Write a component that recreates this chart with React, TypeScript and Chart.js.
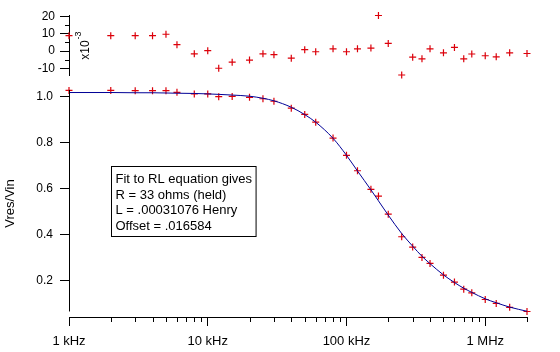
import React, { useEffect, useRef } from 'react';
import { Chart, registerables } from 'chart.js';

Chart.register(...registerables);

// ---- data ----
const FREQ_HZ = [1e3, 2e3, 3e3, 4e3, 5e3, 6e3, 8e3, 1e4, 1.2e4, 1.5e4, 2e4, 2.5e4, 3e4, 4e4, 5e4, 6e4, 8e4, 1e5, 1.2e5, 1.5e5, 1.7e5, 2e5, 2.5e5, 3e5, 3.5e5, 4e5, 5e5, 6e5, 7e5, 8e5, 1e6, 1.2e6, 1.5e6, 2e6];
const VRES_VIN = [1.026, 1.026, 1.025, 1.025, 1.025, 1.018, 1.011, 1.011, 0.999, 1.0, 0.996, 0.99, 0.979, 0.949, 0.922, 0.888, 0.819, 0.744, 0.677, 0.596, 0.567, 0.488, 0.39, 0.345, 0.3, 0.274, 0.223, 0.193, 0.162, 0.146, 0.117, 0.1, 0.083, 0.065];
const FIT_CURVE = [1.017, 1.017, 1.016, 1.016, 1.015, 1.014, 1.013, 1.011, 1.009, 1.006, 1.001, 0.992, 0.981, 0.953, 0.921, 0.888, 0.818, 0.744, 0.676, 0.594, 0.546, 0.484, 0.404, 0.349, 0.305, 0.273, 0.224, 0.191, 0.166, 0.148, 0.12, 0.103, 0.084, 0.066];
const RESIDUAL_E3 = [8.9, 8.9, 8.9, 8.9, 9.7, 3.7, -1.6, 0.2, -9.9, -6.4, -5.2, -1.6, -2.1, -4.1, 0.8, -0.4, 1.3, -0.4, 1.3, 1.7, 20.5, 4.4, -13.8, -3.5, -4.5, 1.3, -1.0, 2.1, -4.5, -1.7, -2.7, -3.3, -1.0, -1.4];

const X_MIN = 1e3;
const X_MAX = 2e6;
const X_TICKS = [1e3, 1e4, 1e5, 1e6];
const X_TICK_LABELS = ['1 kHz', '10 kHz', '100 kHz', '1 MHz'];

const Y_TICKS = [0.2, 0.4, 0.6, 0.8, 1.0];
const Y_TICK_LABELS = ['0.2', '0.4', '0.6', '0.8', '1.0'];
const Y_MAX = 1.028;
const Y_AXIS_END = 0.065;
const Y_SCALE_MIN = 0.041;

const RES_TICKS = [-10, 0, 10, 20];
const RES_MINOR = [-5, 5, 15];
const RES_MIN = -13.8;
const RES_MAX = 20.8;

const Y_TITLE = 'Vres/Vin';
const FIT_TEXT = ['Fit to RL equation gives', 'R = 33 ohms (held)', 'L = .00031076 Henry', 'Offset = .016584'];
const BOX_AT = { x: 2000, y: 0.697 };

const FONT = 'Liberation Sans, Arial, sans-serif';
const RED = 'rgb(220,0,10)';
const NAVY = 'rgb(0,0,150)';

function minorLogTicks(min: number, max: number) {
  const out: number[] = [];
  for (let d = Math.pow(10, Math.floor(Math.log10(min))); d <= max; d *= 10) {
    for (let m = 2; m <= 9; m++) {
      const v = m * d;
      if (v >= min && v <= max) out.push(v);
    }
  }
  return out;
}

const mainPlugin = {
  id: 'igorMain',
  afterDraw(chart: any) {
    const { ctx, chartArea, scales } = chart;
    const xs = scales.x;
    const ys = scales.y;
    ctx.save();
    ctx.strokeStyle = '#000';
    ctx.lineWidth = 1;
    const lx = Math.round(chartArea.left) + 0.5;
    ctx.beginPath();
    ctx.moveTo(lx, ys.getPixelForValue(Y_MAX));
    ctx.lineTo(lx, ys.getPixelForValue(Y_AXIS_END));
    ctx.stroke();
    const by = Math.round(chartArea.bottom);
    ctx.beginPath();
    for (const v of minorLogTicks(X_MIN, X_MAX)) {
      const px = Math.round(xs.getPixelForValue(v)) + 0.5;
      ctx.moveTo(px, by);
      ctx.lineTo(px, by + 5);
    }
    ctx.stroke();
    ctx.font = `13px ${FONT}`;
    const lineH = 15.7;
    const w = Math.max(...FIT_TEXT.map((t) => ctx.measureText(t).width)) + 8;
    const h = 70;
    const bx = Math.round(xs.getPixelForValue(BOX_AT.x)) + 0.5;
    const byy = Math.round(ys.getPixelForValue(BOX_AT.y)) + 0.5;
    ctx.fillStyle = '#fff';
    ctx.fillRect(bx, byy, w, h);
    ctx.strokeRect(bx, byy, w, h);
    ctx.fillStyle = '#000';
    ctx.textBaseline = 'middle';
    ctx.textAlign = 'left';
    FIT_TEXT.forEach((t, i) => ctx.fillText(t, bx + 4, byy + 13 + i * lineH));
    ctx.restore();
  },
};

const resPlugin = {
  id: 'igorRes',
  afterDraw(chart: any) {
    const { ctx, chartArea, scales } = chart;
    const ys = scales.y;
    ctx.save();
    ctx.strokeStyle = '#000';
    ctx.lineWidth = 1;
    const lx = Math.round(chartArea.left);
    ctx.beginPath();
    for (const v of RES_MINOR) {
      const py = Math.round(ys.getPixelForValue(v)) + 0.5;
      ctx.moveTo(lx - 4, py);
      ctx.lineTo(lx, py);
    }
    ctx.stroke();
    ctx.fillStyle = '#000';
    ctx.translate(lx + 20, ys.getPixelForValue(-5));
    ctx.rotate(-Math.PI / 2);
    ctx.textBaseline = 'alphabetic';
    ctx.textAlign = 'left';
    ctx.font = `12px ${FONT}`;
    ctx.fillText('x10', 0, 0);
    const w = ctx.measureText('x10').width;
    ctx.font = `9px ${FONT}`;
    ctx.fillText('-3', w + 1, -8);
    ctx.restore();
  },
};

export default function App() {
  const mainRef = useRef<HTMLCanvasElement>(null);
  const resRef = useRef<HTMLCanvasElement>(null);

  useEffect(() => {
    const tickFont = { family: FONT, size: 12 };
    const markerStyle = {
      showLine: false,
      pointStyle: 'cross',
      pointRadius: 3.5,
      borderColor: RED,
      backgroundColor: RED,
      pointBorderWidth: 1.2,
      clip: false,
    };
    const main = new Chart(mainRef.current!, {
      type: 'scatter',
      data: {
        datasets: [
          {
            data: FREQ_HZ.map((f, i) => ({ x: f, y: FIT_CURVE[i] })),
            showLine: true,
            borderColor: NAVY,
            borderWidth: 1,
            pointRadius: 0,
            cubicInterpolationMode: 'monotone',
            clip: false,
          },
          {
            data: FREQ_HZ.map((f, i) => ({ x: f, y: VRES_VIN[i] })),
            ...markerStyle,
          },
        ],
      },
      options: {
        animation: false,
        responsive: false,
        events: [],
        layout: { padding: { left: 0, right: 33, top: 90, bottom: 0 } },
        plugins: { legend: { display: false }, tooltip: { enabled: false } },
        scales: {
          x: {
            type: 'logarithmic',
            min: X_MIN,
            max: X_MAX,
            afterBuildTicks: (axis: any) => {
              axis.ticks = X_TICKS.map((v) => ({ value: v }));
            },
            afterFit: (scale: any) => {
              scale.height = 35;
            },
            ticks: {
              callback: (_v: any, i: number) => X_TICK_LABELS[i],
              font: { family: FONT, size: 13 },
              color: '#000',
              padding: 8,
              maxRotation: 0,
              autoSkip: false,
            },
            grid: { drawOnChartArea: false, tickLength: 9, color: '#000', tickColor: '#000' },
            border: { display: true, color: '#000', width: 1 },
          },
          y: {
            type: 'linear',
            min: Y_SCALE_MIN,
            max: Y_MAX,
            afterBuildTicks: (axis: any) => {
              axis.ticks = Y_TICKS.map((v) => ({ value: v }));
            },
            afterFit: (scale: any) => {
              scale.width = 69;
            },
            ticks: {
              callback: (_v: any, i: number) => Y_TICK_LABELS[i],
              font: tickFont,
              color: '#000',
              padding: 7,
            },
            title: {
              display: true,
              text: Y_TITLE,
              font: { family: FONT, size: 13 },
              color: '#000',
              padding: { top: 3, bottom: 0 },
            },
            grid: { drawOnChartArea: false, tickLength: 9, color: '#000', tickColor: '#000' },
            border: { display: false },
          },
        },
      },
      plugins: [mainPlugin],
    } as any);

    const res = new Chart(resRef.current!, {
      type: 'scatter',
      data: {
        datasets: [
          {
            data: FREQ_HZ.map((f, i) => ({ x: f, y: RESIDUAL_E3[i] })),
            ...markerStyle,
          },
        ],
      },
      options: {
        animation: false,
        responsive: false,
        events: [],
        layout: { padding: { left: 0, right: 33, top: 15, bottom: 277 } },
        plugins: { legend: { display: false }, tooltip: { enabled: false } },
        scales: {
          x: { type: 'logarithmic', min: X_MIN, max: X_MAX, display: false },
          y: {
            type: 'linear',
            min: RES_MIN,
            max: RES_MAX,
            afterBuildTicks: (axis: any) => {
              axis.ticks = RES_TICKS.map((v) => ({ value: v }));
            },
            afterFit: (scale: any) => {
              scale.width = 69;
            },
            ticks: {
              callback: (v: any) => String(v),
              font: tickFont,
              color: '#000',
              padding: 5,
            },
            grid: { drawOnChartArea: false, tickLength: 9, color: '#000', tickColor: '#000' },
            border: { display: true, color: '#000', width: 1 },
          },
        },
      },
      plugins: [resPlugin],
    } as any);

    return () => {
      main.destroy();
      res.destroy();
    };
  }, []);

  const canvasStyle: React.CSSProperties = { position: 'absolute', left: 0, top: 0 };
  return (
    <div style={{ position: 'absolute', left: 0, top: 0, width: 560, height: 352, background: '#fff' }}>
      <canvas ref={mainRef} width={560} height={352} style={canvasStyle} />
      <canvas ref={resRef} width={560} height={352} style={canvasStyle} />
    </div>
  );
}
